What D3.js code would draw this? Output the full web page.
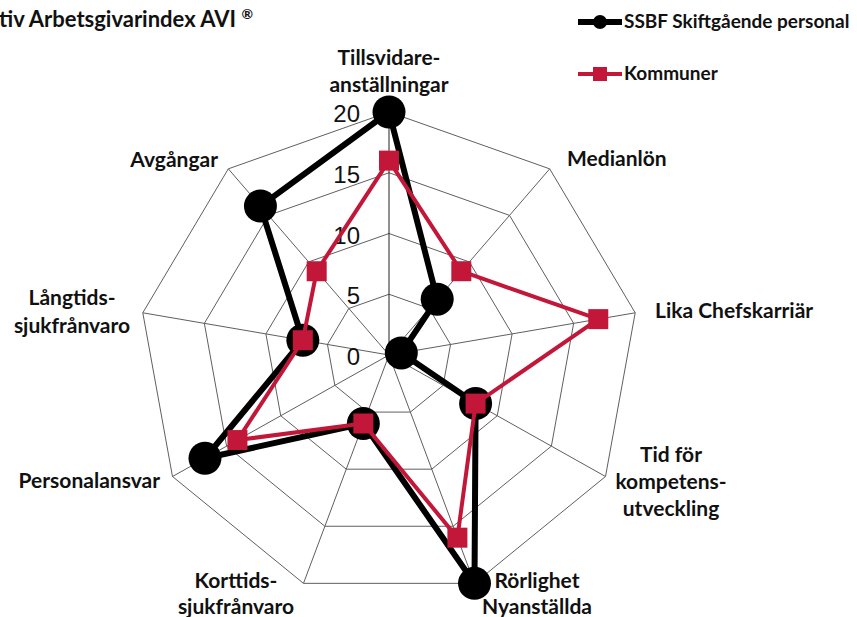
<!DOCTYPE html>
<html>
<head>
<meta charset="utf-8">
<script src="https://cdn.jsdelivr.net/npm/d3@7"></script>
<style>
  html, body { margin: 0; padding: 0; background: #fff; }
  svg { display: block; }
  .axis-label { font-family: Lato, "Open Sans", sans-serif; font-weight: bold; font-size: 21px; fill: #111; }
  .legend-label { font-family: Lato, "Open Sans", sans-serif; font-weight: bold; font-size: 19px; fill: #111; }
  .tick-label { font-family: "Liberation Sans", Arial, sans-serif; font-size: 24px; fill: #111; }
</style>
</head>
<body>
<div id="chart"></div>
<script>
// Axis categories (clockwise from top)
const categories = [
    'Tillsvidare-anställningar',
    'Medianlön',
    'Lika Chefskarriär',
    'Tid för kompetens-utveckling',
    'Rörlighet Nyanställda',
    'Korttids-sjukfrånvaro',
    'Personalansvar',
    'Långtids-sjukfrånvaro',
    'Avgångar'
];

// Series values
const ssbfValues = [20, 6, 1, 8, 20, 6, 17, 7, 16];
const kommunerValues = [16, 9, 17, 8, 16, 6, 14, 7, 9];

// Tick labels
const ringTicks = [5, 10, 15, 20];
const tickLabels = [0, 5, 10, 15, 20];

const seriesNames = ['SSBF Skiftgående personal', 'Kommuner'];

const width = 857, height = 617;
const cx = 389, cy = 355;
const yFactor = 243 / 250;

const svg = d3.select('#chart').append('svg')
    .attr('width', width)
    .attr('height', height);

const r = d3.scaleLinear().domain([0, 20]).range([0, 250]);
const angle = d3.scaleLinear().domain([0, categories.length]).range([0, 2 * Math.PI]);

function pt(i, v) {
    const a = angle(i);
    return [cx + Math.sin(a) * r(v), cy - Math.cos(a) * r(v) * yFactor];
}

const line = d3.line();

// Grid rings
const grid = svg.append('g');
ringTicks.forEach(t => {
    const pts = categories.map((c, i) => pt(i, t));
    grid.append('path')
        .attr('d', line(pts) + 'Z')
        .attr('fill', 'none')
        .attr('stroke', '#5f5f5f')
        .attr('stroke-width', 1);
});

// Spokes
categories.forEach((c, i) => {
    const [x, y] = pt(i, 20);
    grid.append('line')
        .attr('x1', cx).attr('y1', cy)
        .attr('x2', x).attr('y2', y)
        .attr('stroke', i === 0 ? '#222' : '#5f5f5f')
        .attr('stroke-width', 1);
});

// Tick labels along the top spoke
tickLabels.forEach(t => {
    svg.append('text')
        .attr('class', 'tick-label')
        .attr('x', cx - 29)
        .attr('y', cy - r(t) * yFactor + 10)
        .attr('text-anchor', 'end')
        .text(t);
});

// Series: black circles
const ssbfPts = ssbfValues.map((v, i) => pt(i, v));
svg.append('path')
    .attr('d', line(ssbfPts) + 'Z')
    .attr('fill', 'none')
    .attr('stroke', '#000')
    .attr('stroke-width', 6)
    .attr('stroke-linejoin', 'round');
svg.selectAll('.ssbf-dot')
    .data(ssbfPts)
    .enter().append('circle')
    .attr('class', 'ssbf-dot')
    .attr('cx', d => d[0])
    .attr('cy', d => d[1])
    .attr('r', 16.5)
    .attr('fill', '#000');

// Series: red squares
const redColor = '#C3173A';
const komPts = kommunerValues.map((v, i) => pt(i, v));
svg.append('path')
    .attr('d', line(komPts) + 'Z')
    .attr('fill', 'none')
    .attr('stroke', redColor)
    .attr('stroke-width', 4)
    .attr('stroke-linejoin', 'round');
svg.selectAll('.kom-dot')
    .data(komPts)
    .enter().append('rect')
    .attr('class', 'kom-dot')
    .attr('x', d => d[0] - 10)
    .attr('y', d => d[1] - 10)
    .attr('width', 20)
    .attr('height', 20)
    .attr('fill', redColor);

// Axis labels
const labelSpecs = [
    { lines: ['Tillsvidare-', 'anställningar'], x: 389, y: 65, anchor: 'middle', lh: 27 },
    { lines: ['Medianlön'], x: 567, y: 166, anchor: 'start', lh: 27 },
    { lines: ['Lika Chefskarriär'], x: 655, y: 318, anchor: 'start', lh: 27 },
    { lines: ['Tid för', 'kompetens-', 'utveckling'], x: 671, y: 462, anchor: 'middle', lh: 27 },
    { lines: ['Rörlighet', 'Nyanställda'], x: 537, y: 588, anchor: 'middle', lh: 26 },
    { lines: ['Korttids-', 'sjukfrånvaro'], x: 236, y: 588, anchor: 'middle', lh: 26 },
    { lines: ['Personalansvar'], x: 160, y: 488, anchor: 'end', lh: 27 },
    { lines: ['Långtids-', 'sjukfrånvaro'], x: 72, y: 305, anchor: 'middle', lh: 28 },
    { lines: ['Avgångar'], x: 218, y: 167, anchor: 'end', lh: 27 }
];
labelSpecs.forEach(s => {
    const t = svg.append('text')
        .attr('class', 'axis-label')
        .attr('text-anchor', s.anchor);
    s.lines.forEach((ln, k) => {
        t.append('tspan')
            .attr('x', s.x)
            .attr('y', s.y + k * s.lh)
            .text(ln);
    });
});

// Title (cut off at left edge as in the source)
const title = svg.append('text')
    .attr('x', -1)
    .attr('y', 27)
    .attr('class', 'axis-label')
    .style('font-size', '22px')
    .text('tiv Arbetsgivarindex AVI ');
title.append('tspan')
    .attr('dy', -8)
    .style('font-size', '14px')
    .text('®');

// Legend
const legend = svg.append('g');
legend.append('line')
    .attr('x1', 578).attr('x2', 622).attr('y1', 22).attr('y2', 22)
    .attr('stroke', '#000').attr('stroke-width', 6);
legend.append('circle')
    .attr('cx', 600).attr('cy', 22).attr('r', 7).attr('fill', '#000');
legend.append('text')
    .attr('class', 'legend-label')
    .attr('x', 624).attr('y', 28)
    .text(seriesNames[0]);

legend.append('line')
    .attr('x1', 578).attr('x2', 622).attr('y1', 74).attr('y2', 74)
    .attr('stroke', redColor).attr('stroke-width', 4);
legend.append('rect')
    .attr('x', 593).attr('y', 67).attr('width', 14).attr('height', 14)
    .attr('fill', redColor);
legend.append('text')
    .attr('class', 'legend-label')
    .attr('x', 624).attr('y', 80)
    .text(seriesNames[1]);
</script>
</body>
</html>
